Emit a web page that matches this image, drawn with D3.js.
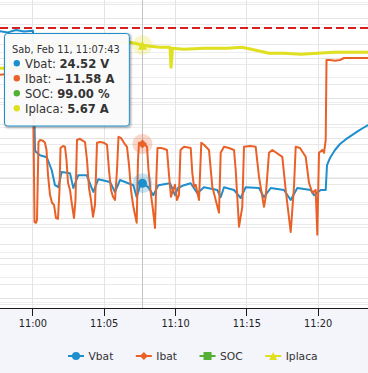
<!DOCTYPE html>
<html><head><meta charset="utf-8">
<script src="https://cdn.jsdelivr.net/npm/d3@7"></script>
<style>html,body{margin:0;padding:0;background:#f4f4fb;}svg{display:block;font-family:"DejaVu Sans",Verdana,sans-serif;}</style>
</head><body><svg id="c" width="368" height="373"></svg>
<script>
// ---------------- data (minutes after 11:00:00, Sat Feb 11) ----------------
const seriesNames = ["Vbat", "Ibat", "SOC", "Iplaca"];
const seriesUnits = ["V", "A", "%", "A"];
const weekdayNames = ["Dom", "Lun", "Mar", "Mie", "Jue", "Vie", "Sab"];
const viewMinutes = [-2.2635, 23.525];
const hoverMinute = 7.7167;            // 11:07:43
const vbatLimit = 28.4;                 // dashed red plot line

const vbatMin = [-2.263,-1.703,-1.142,-0.582,0.049,0.189,0.259,0.540,1.009,1.359,1.591,1.822,2.060,2.642,2.873,3.224,3.812,4.275,4.625,5.445,5.795,6.146,7.078,7.316,7.547,7.7167,8.129,8.479,8.830,9.650,10.000,10.210,10.631,11.101,11.563,12.032,12.964,13.202,13.434,14.135,14.604,14.955,15.887,16.237,16.707,17.639,18.108,18.570,19.509,19.741,20.210,20.561,20.652,20.862,21.212,21.563,21.983,22.404,22.824,23.175,23.525];
const vbatVal = [28.32,28.29,28.35,28.31,28.33,25.35,25.30,25.22,25.17,24.85,24.47,24.42,24.80,24.77,24.40,24.72,24.72,24.30,24.62,24.55,24.30,24.60,24.47,24.17,24.47,24.52,24.42,24.22,24.47,24.52,24.22,24.40,24.47,24.52,24.27,24.42,24.35,24.17,24.42,24.35,24.15,24.42,24.40,24.17,24.40,24.35,24.10,24.40,24.35,24.22,24.35,24.35,24.97,25.15,25.35,25.50,25.62,25.72,25.82,25.90,25.97];

const ibatMin = [-2.263,-1.703,-1.142,-0.582,0.049,0.154,0.259,0.329,0.434,0.540,0.750,0.890,0.995,1.100,1.240,1.381,1.521,1.661,1.801,1.906,1.976,2.151,2.292,2.397,2.502,2.642,2.782,2.922,3.027,3.132,3.343,3.553,3.693,3.833,3.973,4.114,4.254,4.394,4.534,4.744,5.024,5.235,5.375,5.515,5.655,5.795,5.935,6.041,6.216,6.426,6.636,6.777,6.917,7.057,7.197,7.316,7.407,7.477,7.7167,7.898,8.038,8.143,8.318,8.458,8.598,8.703,8.773,9.019,9.229,9.439,9.579,9.720,9.860,10.000,10.140,10.280,10.386,10.631,11.101,11.212,11.332,11.451,11.682,11.843,12.032,12.383,12.614,13.083,13.202,13.434,13.784,14.135,14.254,14.485,14.716,14.835,15.256,15.655,15.887,16.237,16.356,16.587,16.819,17.519,17.758,18.108,18.339,18.458,18.760,19.159,19.390,19.622,19.860,19.972,20.091,20.322,20.442,20.561,20.617,20.862,21.212,21.563,21.843,22.263,22.964,23.525];
const ibatVal = [5.7,5.9,5.4,5.7,5.7,-31.1,-31.3,-30.6,-11.1,-10.6,-10.8,-11.3,-13.1,-19.3,-24.3,-26.3,-26.8,-30.1,-30.3,-23.1,-12.6,-12.1,-12.3,-15.6,-21.3,-23.1,-26.8,-30.1,-25.6,-10.6,-10.3,-10.8,-11.1,-15.6,-22.6,-25.6,-29.8,-26.8,-11.3,-11.1,-11.3,-11.8,-18.1,-23.1,-24.8,-25.6,-18.1,-9.8,-10.1,-11.3,-12.3,-16.8,-23.1,-26.8,-29.3,-31.3,-15.6,-11.3,-11.58,-11.8,-12.3,-18.1,-24.3,-28.1,-32.6,-19.3,-12.6,-12.6,-12.8,-13.1,-19.3,-24.8,-23.1,-21.8,-25.6,-24.3,-13.1,-12.3,-12.6,-18.8,-22.3,-21.8,-25.6,-11.3,-11.8,-13.1,-22.3,-28.8,-13.8,-12.3,-12.6,-13.1,-18.1,-32.3,-27.3,-12.3,-12.1,-12.3,-19.8,-27.3,-24.8,-13.8,-13.1,-14.8,-23.1,-33.6,-22.3,-12.3,-12.6,-14.8,-21.3,-23.8,-23.1,-34.3,-13.8,-13.1,-13.8,-10.6,9.4,9.4,9.2,9.4,9.9,9.9,9.9,9.9];

const socMin = [-2.263, 7.7167, 23.525];
const socVal = [99, 99, 99];

const placaMin = [-2.263,-1.142,0.049,0.189,3.343,6.706,7.197,7.7167,8.248,8.949,9.650,9.720,9.825,10.631,12.032,13.644,14.695,15.676,16.587,17.639,18.830,19.951,21.142,23.525];
const placaVal = [3.37,3.40,3.37,5.77,5.87,5.97,5.87,5.67,5.57,5.47,5.47,3.47,5.37,5.27,5.37,5.37,5.47,5.17,4.87,4.87,4.77,4.87,4.97,4.97];

// axis extents (one y axis per series)
const vbatAxis = [21.4, 29.1];
const ibatAxis = [-52.6, 24.4];
const socAxis = [-20, 90];
const placaAxis = [-20.6, 10.2];

// ---------------- styles ----------------
const colors = ["#1e8fcc", "#ea6128", "#52b032", "#dfe01f"];
const widths = [2, 2, 2, 3];

// ---------------- drawing ----------------
const W = 368, H = 373, plotH = 308;
const base = new Date(2023, 1, 11, 11, 0, 0);
const toDate = m => new Date(base.getTime() + Math.round(m * 60000));

const x = d3.scaleTime().domain(viewMinutes.map(toDate)).range([0, W]);
const yV = d3.scaleLinear().domain(vbatAxis).range([plotH, 0]);
const yI = d3.scaleLinear().domain(ibatAxis).range([plotH, 0]);
const yS = d3.scaleLinear().domain(socAxis).range([plotH, 0]);
const yP = d3.scaleLinear().domain(placaAxis).range([plotH, 0]);
const yScales = [yV, yI, yS, yP];

const series = [
  d3.zip(vbatMin, vbatVal),
  d3.zip(ibatMin, ibatVal),
  d3.zip(socMin, socVal),
  d3.zip(placaMin, placaVal)
];

const svg = d3.select("#c");
svg.append("rect").attr("width", W).attr("height", H).attr("fill", "#f4f4fb");
svg.append("rect").attr("width", W).attr("height", plotH).attr("fill", "#ffffff");

svg.append("defs").append("clipPath").attr("id", "plotClip")
  .append("rect").attr("width", W).attr("height", plotH);

// horizontal gridlines from each axis
const grid = svg.append("g").attr("shape-rendering", "crispEdges");
const gridSets = [
  [yV, yV.ticks(16), "#e9e9e9"],
  [yI, yI.ticks(8), "#e4e4e4"],
  [yP, d3.range(-20, 10.3, 2.5), "#eeeeee"]
];
gridSets.forEach(([sc, ticks, col]) => {
  grid.selectAll(null).data(ticks).enter().append("line")
    .attr("x1", 0).attr("x2", W)
    .attr("y1", d => Math.round(sc(d)) + 0.5).attr("y2", d => Math.round(sc(d)) + 0.5)
    .attr("stroke", col).attr("stroke-width", 1);
});
// vertical gridlines
const xTicks = x.ticks(d3.timeMinute.every(5));
grid.selectAll(null).data(xTicks).enter().append("line")
  .attr("x1", d => Math.round(x(d)) + 0.5).attr("x2", d => Math.round(x(d)) + 0.5)
  .attr("y1", 0).attr("y2", plotH)
  .attr("stroke", "#e4e4e4");

// crosshair
const hoverDate = toDate(hoverMinute);
svg.append("line")
  .attr("x1", Math.round(x(hoverDate)) + 0.5).attr("x2", Math.round(x(hoverDate)) + 0.5)
  .attr("y1", 0).attr("y2", plotH)
  .attr("stroke", "#c4c4c4").attr("stroke-width", 1);

// red dashed plot line
svg.append("line")
  .attr("x1", 0).attr("x2", W)
  .attr("y1", yV(vbatLimit)).attr("y2", yV(vbatLimit))
  .attr("stroke", "#d81e1e").attr("stroke-width", 2).attr("stroke-dasharray", "8,4");

// series lines
const gSeries = svg.append("g").attr("clip-path", "url(#plotClip)");
series.forEach((data, i) => {
  const line = d3.line().x(d => x(toDate(d[0]))).y(d => yScales[i](d[1]));
  gSeries.append("path").datum(data)
    .attr("d", line)
    .attr("fill", "none")
    .attr("stroke", colors[i])
    .attr("stroke-width", widths[i])
    .attr("stroke-linejoin", "round")
    .attr("stroke-linecap", "round");
});

// marker shapes
function markerPath(kind, r) {
  if (kind === "circle") return d3.symbol(d3.symbolCircle, Math.PI * r * r)().toString();
  if (kind === "diamond") return `M0,${-r}L${r},0L0,${r}L${-r},0Z`;
  if (kind === "square") return `M${-r},${-r}H${r}V${r}H${-r}Z`;
  return `M0,${-r}L${r},${r}L${-r},${r}Z`;
}
const kinds = ["circle", "diamond", "square", "triangle"];

// hover markers with halos (only those inside the plot area)
const hoverVals = series.map(data => d3.least(data, d => Math.abs(d[0] - hoverMinute)));
const gHover = svg.append("g").attr("clip-path", "url(#plotClip)");
hoverVals.forEach((d, i) => {
  const cx = x(toDate(d[0])), cy = yScales[i](d[1]);
  if (cy < -12 || cy > plotH + 12) return;
  gHover.append("circle").attr("cx", cx).attr("cy", cy).attr("r", 10)
    .attr("fill", colors[i]).attr("fill-opacity", 0.25);
  gHover.append("path").attr("transform", `translate(${cx},${cy})`)
    .attr("d", markerPath(kinds[i], 4.5))
    .attr("fill", colors[i]);
});

// x axis
const axisG = svg.append("g").attr("transform", `translate(0,${plotH})`);
axisG.append("line").attr("x1", 0).attr("x2", W).attr("y1", 0.5).attr("y2", 0.5)
  .attr("stroke", "#1a1a1a").attr("stroke-width", 1);
const xAxis = d3.axisBottom(x).ticks(d3.timeMinute.every(5))
  .tickFormat(d3.timeFormat("%H:%M")).tickSize(8).tickPadding(4);
const ax = axisG.append("g").call(xAxis);
ax.select(".domain").remove();
ax.selectAll(".tick line").attr("stroke", "#1a1a1a").attr("shape-rendering", "crispEdges");
ax.selectAll(".tick text").attr("fill", "#222").attr("font-size", "9.8px")
  .attr("font-family", "DejaVu Sans, Verdana, sans-serif");

// legend
const legend = svg.append("g").attr("font-size", "10.7px").attr("fill", "#333");
let lx = 68;
const ly = 356;
seriesNames.forEach((name, i) => {
  const g = legend.append("g");
  g.append("line").attr("x1", lx).attr("x2", lx + 16).attr("y1", ly).attr("y2", ly)
    .attr("stroke", colors[i]).attr("stroke-width", 2);
  g.append("path").attr("transform", `translate(${lx + 8},${ly})`)
    .attr("d", markerPath(kinds[i], 4)).attr("fill", colors[i]);
  const t = g.append("text").attr("x", lx + 20.5).attr("y", ly + 3.9).text(name)
    .attr("fill", "#333");
  lx += 20.5 + t.node().getComputedTextLength() + 22.5;
});

// tooltip
const tip = svg.append("g");
const tipX = 4.5, tipY = 33.5;
const shadowG = tip.append("g");
const box = tip.append("rect");
const txt = tip.append("g").attr("fill", "#333");
const fmtTime = d3.timeFormat("%b %d, %H:%M:%S");
txt.append("text").attr("x", tipX + 7.5).attr("y", tipY + 19.5).attr("font-size", "9.8px")
  .text(weekdayNames[hoverDate.getDay()] + ", " + fmtTime(hoverDate));
const fmt2 = d3.format(".2f");
let maxRight = 0;
hoverVals.forEach((d, i) => {
  const by = tipY + 34 + i * 15;
  txt.append("circle").attr("cx", tipX + 12.3).attr("cy", by - 4.3).attr("r", 3.2).attr("fill", colors[i]);
  const t = txt.append("text").attr("x", tipX + 20.5).attr("y", by).attr("font-size", "11.6px");
  t.append("tspan").text(seriesNames[i] + ": ");
  t.append("tspan").attr("font-weight", "bold").text(fmt2(d[1]) + " " + seriesUnits[i]);
});
txt.selectAll("text").each(function () {
  const b = this.getBBox();
  maxRight = Math.max(maxRight, b.x + b.width);
});
const tipW = Math.max(123, maxRight + 9.5 - tipX);
const tipH = 92.5;
[5, 3, 1].forEach((sw, k) => {
  shadowG.append("rect").attr("x", tipX + 1).attr("y", tipY + 1).attr("width", tipW).attr("height", tipH)
    .attr("rx", 3).attr("fill", "none").attr("stroke", "#000")
    .attr("stroke-opacity", 0.05 * (k + 1)).attr("stroke-width", sw);
});
box.attr("x", tipX).attr("y", tipY).attr("width", tipW).attr("height", tipH).attr("rx", 3)
  .attr("fill", "rgba(250,250,250,0.96)").attr("stroke", colors[0]).attr("stroke-width", 1);
</script></body></html>
